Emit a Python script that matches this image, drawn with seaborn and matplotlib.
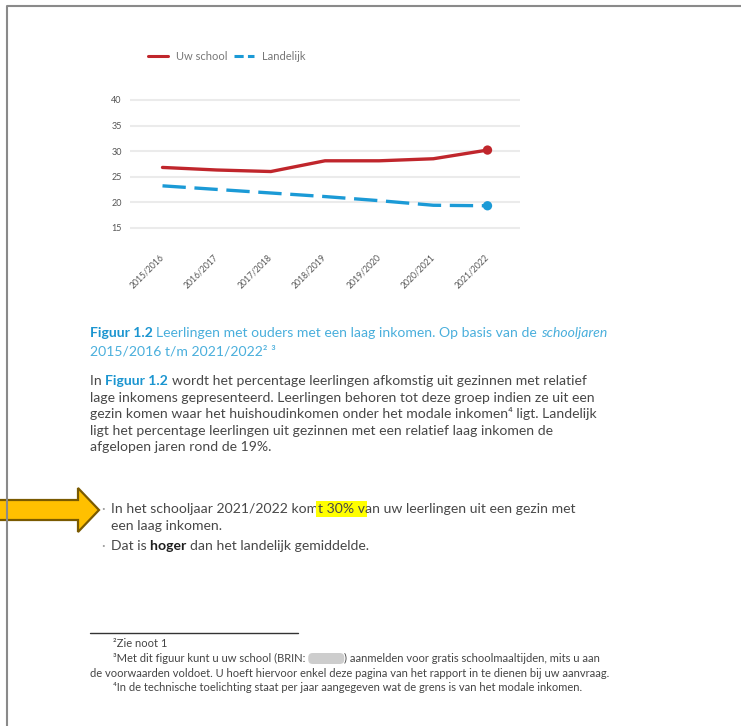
import matplotlib
matplotlib.use("Agg")
import matplotlib.pyplot as plt
import seaborn as sns
import pandas as pd
from matplotlib.patches import Polygon, FancyBboxPatch
from matplotlib.lines import Line2D

# ---------------- data ----------------
years = ["2015/2016", "2016/2017", "2017/2018", "2018/2019",
         "2019/2020", "2020/2021", "2021/2022"]
uw_school = [26.8, 26.3, 26.0, 28.1, 28.1, 28.5, 30.2]
landelijk = [23.2, 22.5, 21.8, 21.1, 20.3, 19.4, 19.3]
series_names = ["Uw school", "Landelijk"]
y_ticks = [15, 20, 25, 30, 35, 40]

RED = "#c0262c"
BLUE = "#1b9ad6"

df = pd.DataFrame({"Schooljaar": years, series_names[0]: uw_school,
                   series_names[1]: landelijk})
long = df.melt(id_vars="Schooljaar", var_name="Reeks", value_name="Percentage")
last = long[long["Schooljaar"] == years[-1]]

sns.set_theme(style="white")
plt.rcParams["font.family"] = ["Lato", "DejaVu Sans"]

W, H = 741, 726
fig = plt.figure(figsize=(W / 100, H / 100), dpi=100)
fig.patch.set_facecolor("white")


def fx(x):
    return x / W


def fy(y):
    return 1 - y / H


# ---------------- chart ----------------
ax = fig.add_axes([fx(130), fy(253.3), 390 / W, 166.1 / H])
palette = {series_names[0]: RED, series_names[1]: BLUE}
sns.lineplot(data=long, x="Schooljaar", y="Percentage", hue="Reeks",
             style="Reeks", palette=palette,
             dashes={series_names[0]: "", series_names[1]: (7, 2.6)},
             linewidth=2.4, errorbar=None, sort=False, legend=False, ax=ax)
sns.scatterplot(data=last, x="Schooljaar", y="Percentage", hue="Reeks",
                palette=palette, s=45, edgecolor="none", legend=False,
                ax=ax, zorder=5)
ax.set_xlim(-0.6, 6.6)
ax.set_ylim(10, 42.5)
ax.set_yticks(y_ticks)
ax.yaxis.grid(True, color="#ebebeb", linewidth=1.5)
ax.xaxis.grid(False)
ax.set_axisbelow(True)
for s in ax.spines.values():
    s.set_visible(False)
ax.set_xlabel("")
ax.set_ylabel("")
ax.tick_params(axis="y", length=0, labelsize=6.5, labelcolor="#555555", pad=6)
ax.tick_params(axis="x", length=0, labelsize=6.2, labelcolor="#555555", pad=2)
for lbl in ax.get_xticklabels():
    lbl.set_rotation(45)
    lbl.set_ha("right")
    lbl.set_va("center")
    lbl.set_rotation_mode("anchor")

handles = [Line2D([], [], color=RED, lw=2.2),
           Line2D([], [], color=BLUE, lw=2.2, dashes=(3, 1.4))]
ax.legend(handles=handles, labels=series_names, loc="center left",
          bbox_to_anchor=(fx(148), fy(56)), bbox_transform=fig.transFigure,
          ncol=2, frameon=False, fontsize=8, handlelength=1.8,
          handletextpad=0.7, columnspacing=0.6, borderpad=0,
          borderaxespad=0, labelcolor="#777777")

# ---------------- text helpers ----------------
renderer = fig.canvas.get_renderer()
FONT_KEYS = ("fontweight", "fontstyle", "family")


def ink_width(s, size, **kw):
    t = fig.text(0, 0, s, fontsize=size, **kw)
    w = t.get_window_extent(renderer).width
    t.remove()
    return w


def text_width(s, size, **kw):
    # advance width of s, bearings cancelled by the surrounding 'x's
    return ink_width("x" + s + "x", size, **kw) - ink_width("xx", size, **kw)


BLUR = "__blur__"


def runs(x, y, parts, size, color):
    cur = x
    for text, kw in parts:
        if text == BLUR:
            w = kw["width"]
            fig.patches.append(FancyBboxPatch(
                (fx(cur), fy(y + 2)), w / W, 11 / H,
                boxstyle="round,pad=0,rounding_size=0.006",
                transform=fig.transFigure, fc="#c8c8c8", ec="none",
                alpha=0.9))
            cur += w
            continue
        style = {"color": color}
        style.update(kw)
        fig.text(fx(cur), fy(y), text, fontsize=size, va="baseline",
                 ha="left", **style)
        fk = {k: v for k, v in style.items() if k in FONT_KEYS}
        cur += text_width(text, size, **fk)


BODY = "#484848"
CAP_DARK = "#1b95d0"
CAP_LIGHT = "#4aafdc"
BODY_SIZE = 10.1

# caption
runs(90, 337, [("Figuur 1.2 ", {"fontweight": "bold", "color": CAP_DARK}),
               ("Leerlingen met ouders met een laag inkomen. Op basis van de ", {}),
               ("schooljaren", {"fontstyle": "italic"})], BODY_SIZE, CAP_LIGHT)
runs(90, 355, [("2015/2016 t/m 2021/2022² ³", {})], BODY_SIZE, CAP_LIGHT)

# body paragraph
body_lines = [
    [("In ", {}), ("Figuur 1.2 ", {"fontweight": "bold", "color": CAP_DARK}),
     ("wordt het percentage leerlingen afkomstig uit gezinnen met relatief", {})],
    [("lage inkomens gepresenteerd. Leerlingen behoren tot deze groep indien ze uit een", {})],
    [("gezin komen waar het huishoudinkomen onder het modale inkomen⁴ ligt. Landelijk", {})],
    [("ligt het percentage leerlingen uit gezinnen met een relatief laag inkomen de", {})],
    [("afgelopen jaren rond de 19%.", {})],
]
for i, parts in enumerate(body_lines):
    runs(90, 385 + i * 16.6, parts, BODY_SIZE, BODY)

# arrow
arrow = Polygon([(fx(-5), fy(500)), (fx(78), fy(500)), (fx(78), fy(488)),
                 (fx(99), fy(510)), (fx(78), fy(532)), (fx(78), fy(520)),
                 (fx(-5), fy(520))], closed=True, transform=fig.transFigure,
                fc="#ffc000", ec="#7a5a00", lw=1.6, joinstyle="miter")
fig.patches.append(arrow)

# bullets
for yb in (513, 550):
    fig.text(fx(101), fy(yb), "·", fontsize=BODY_SIZE, color="#9a9a9a",
             va="baseline", ha="left")
runs(111, 513, [("In het schooljaar 2021/2022 kom", {}),
                ("t 30% v", {"bbox": dict(boxstyle="square,pad=0.15",
                                          fc="#ffff00", ec="none")}),
                ("an uw leerlingen uit een gezin met", {})], BODY_SIZE, BODY)
runs(111, 529.5, [("een laag inkomen.", {})], BODY_SIZE, BODY)
runs(111, 550, [("Dat is ", {}), ("hoger ", {"fontweight": "bold", "color": "#1e1e1e"}),
                ("dan het landelijk gemiddelde.", {})], BODY_SIZE, BODY)

# footnotes
fig.add_artist(Line2D([fx(90), fx(298)], [fy(633), fy(633)],
                      transform=fig.transFigure, color="#333333", lw=1.0))
FN = 8.0
runs(113, 647, [("²Zie noot 1", {})], FN, "#444444")
runs(113, 662, [("³Met dit figuur kunt u uw school (BRIN: ", {}),
                (BLUR, {"width": 36}),
                (") aanmelden voor gratis schoolmaaltijden, mits u aan", {})],
     FN, "#444444")
runs(90, 677, [("de voorwaarden voldoet. U hoeft hiervoor enkel deze pagina van het rapport in te dienen bij uw aanvraag.", {})], FN, "#444444")
runs(113, 691, [("⁴In de technische toelichting staat per jaar aangegeven wat de grens is van het modale inkomen.", {})], FN, "#444444")

# page border
fig.add_artist(Line2D([fx(7), fx(7), fx(741)], [fy(726), fy(6), fy(6)],
                      transform=fig.transFigure, color="#8a8a8a", lw=1.5,
                      zorder=10))

fig.savefig("out.png", dpi=100, facecolor="white")
